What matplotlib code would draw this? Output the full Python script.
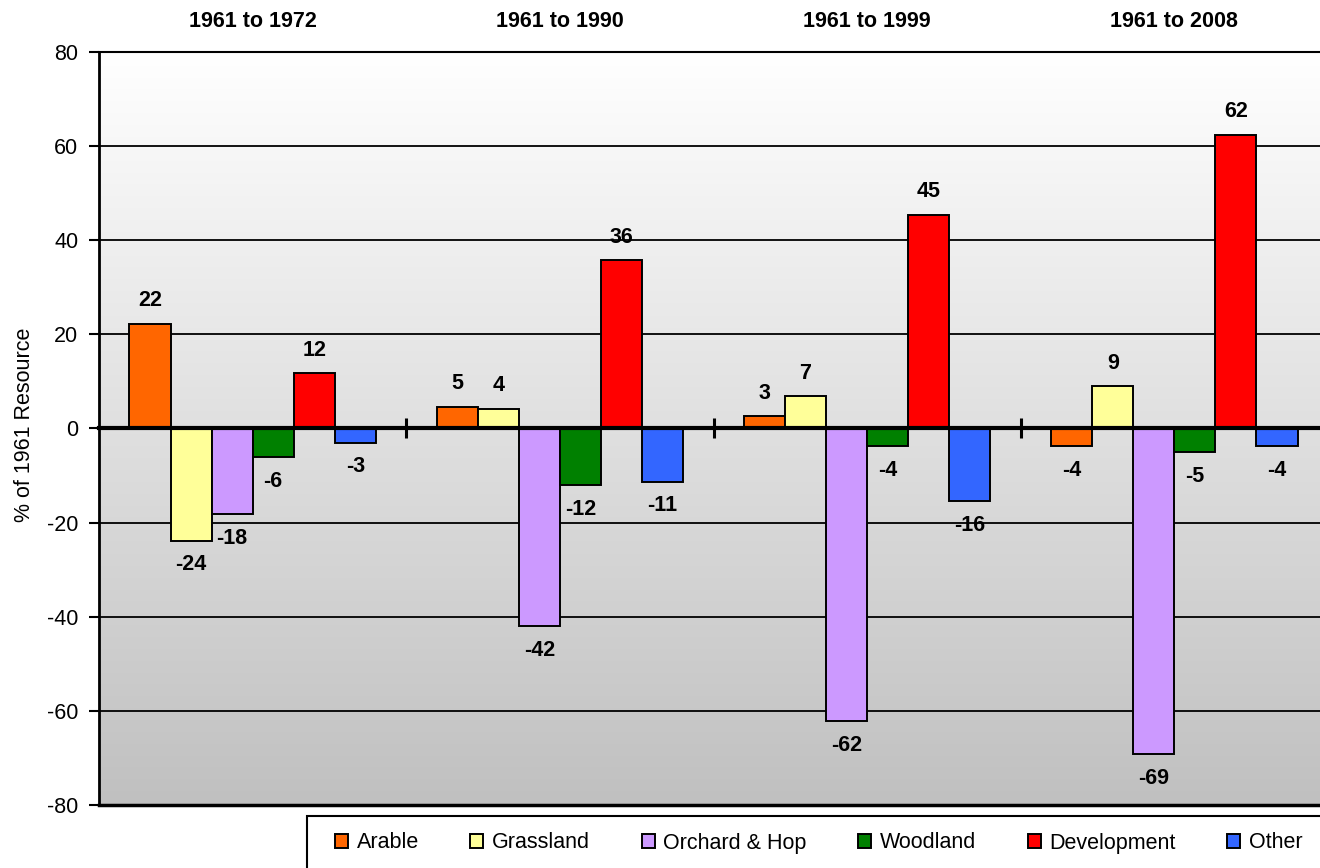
import numpy as np
import matplotlib.pyplot as plt
from matplotlib.patches import Patch, Rectangle
from matplotlib.colors import LinearSegmentedColormap

# --- data ---
periods = ["1961 to 1972", "1961 to 1990", "1961 to 1999", "1961 to 2008"]
land_uses = ["Arable", "Grassland", "Orchard & Hop", "Woodland", "Development", "Other"]
colours = ["#FF6600", "#FFFF99", "#CC99FF", "#008000", "#FF0000", "#3366FF"]

arable = [22.3, 4.6, 2.6, -3.7]
grassland = [-23.8, 4.2, 6.8, 9.0]
orchard_hop = [-18.2, -42.0, -62.2, -69.1]
woodland = [-6.0, -12.0, -3.8, -5.0]
development = [11.8, 35.7, 45.4, 62.4]
other = [-3.0, -11.3, -15.5, -3.7]
series = [arable, grassland, orchard_hop, woodland, development, other]

plt.rcParams["font.family"] = ["Liberation Sans", "DejaVu Sans"]
plt.rcParams["axes.unicode_minus"] = False

fig = plt.figure(figsize=(13.2, 8.68), dpi=100)
ax = fig.add_axes([99 / 1320, 1 - 805 / 868, 1229 / 1320, 753 / 868])

# grey gradient background (white at top, silver at bottom)
grad = np.linspace(1.0, 0.0, 256).reshape(-1, 1)
bg_cmap = LinearSegmentedColormap.from_list("bg", ["#C0C0C0", "#FFFFFF"])
ax.imshow(grad, extent=[0, 1, 0, 1], transform=ax.transAxes, aspect="auto",
          cmap=bg_cmap, vmin=0, vmax=1, zorder=0, origin="upper")

x = np.arange(len(periods))
width = 0.1336
for i, (vals, col) in enumerate(zip(series, colours)):
    pos = x + (i - 2.5) * width
    ax.bar(pos, vals, width, color=col, edgecolor="black", linewidth=1.4, zorder=3)
    for px, v in zip(pos, vals):
        off = 16.5 if v >= 0 else -17.5
        ax.annotate(f"{round(v):d}", (px, v), xytext=(0, off), textcoords="offset points",
                    ha="center", va="center", fontsize=15.5, fontweight="bold", zorder=5)

ax.set_xlim(-0.5, len(periods) - 0.5)
ax.set_ylim(-80, 80)
ax.set_yticks(np.arange(-80, 81, 20))
ax.tick_params(axis="y", direction="out", length=7, width=1.5, labelsize=15.5, pad=8)
ax.yaxis.grid(True, color="black", linewidth=1.3, zorder=1)
ax.set_axisbelow(True)

# zero line acts as the category axis, with ticks between the periods
ax.spines["bottom"].set_position(("data", 0))
ax.spines["bottom"].set_linewidth(3)
ax.spines["bottom"].set_zorder(4)
ax.set_xticks(x[:-1] + 0.5)
ax.set_xticklabels([])
ax.tick_params(axis="x", direction="inout", length=14, width=2.2)
ax.axhline(-80, color="black", linewidth=2.5, zorder=4, clip_on=False)
ax.spines["left"].set_linewidth(2)
ax.spines["top"].set_linewidth(1.5)
ax.spines["right"].set_visible(False)

for xi, label in zip(x, periods):
    ax.text(xi, 1.04, label, transform=ax.get_xaxis_transform(), ha="center", va="center",
            fontsize=15.5, fontweight="bold")

ax.set_ylabel("% of 1961 Resource", fontsize=15.5)
ax.yaxis.set_label_coords(-0.052, 0.505)

# legend box runs past the right and bottom edges, as in the original
fig.patches.append(Rectangle((307 / 1320, -0.1), 0.8, 0.1 + (868 - 816) / 868,
                             transform=fig.transFigure, facecolor="white",
                             edgecolor="black", linewidth=1.5, zorder=1))
handles = [Patch(facecolor=c, edgecolor="black", linewidth=1.4) for c in colours]
fig.legend(handles, land_uses, loc="center left", bbox_to_anchor=(335 / 1320, 1 - 843 / 868),
           ncol=6, fontsize=15.5, frameon=False, handlelength=0.6, handleheight=0.6,
           handletextpad=0.4, columnspacing=2.4, borderpad=0, borderaxespad=0)

fig.savefig("out.png", dpi=100)
